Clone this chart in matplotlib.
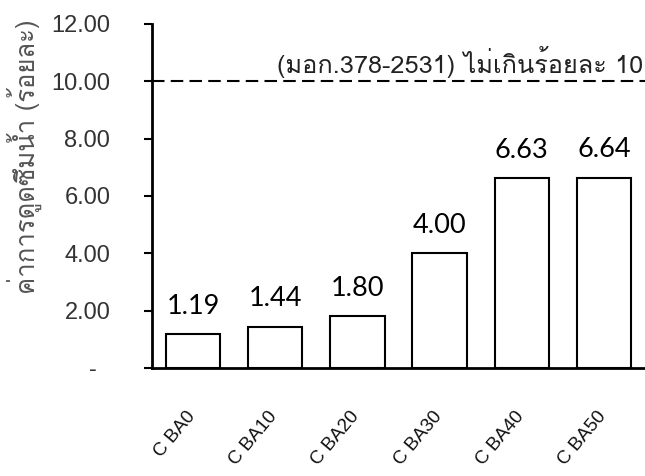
import matplotlib
matplotlib.use('Agg')
import matplotlib.pyplot as plt
import matplotlib.transforms as mtransforms
from matplotlib import font_manager
from matplotlib.ft2font import FT2Font

categories = ['C BA0', 'C BA10', 'C BA20', 'C BA30', 'C BA40', 'C BA50']
absorption = [1.19, 1.44, 1.80, 4.00, 6.63, 6.64]
value_labels = ['1.19', '1.44', '1.80', '4.00', '6.63', '6.64']
y_ticks = [0, 2, 4, 6, 8, 10, 12]
y_tick_labels = ['-  ', '2.00', '4.00', '6.00', '8.00', '10.00', '12.00']
limit_value = 10
limit_text = '(มอก.378-2531) ไม่เกินร้อยละ 10'
y_title = 'ค่าการดูดซึมน้ำ (ร้อยละ)'


def thai_family():
    # look for any installed font that has Thai glyphs
    for f in font_manager.fontManager.ttflist:
        try:
            if 0x0E01 in FT2Font(f.fname).get_charmap():
                return f.name
        except Exception:
            pass
    return None


th = thai_family()
sans = ['Liberation Sans', 'DejaVu Sans']
thai_fam = ([th] if th else []) + sans
if th:
    sans = ['Liberation Sans', th, 'DejaVu Sans']

fig = plt.figure(figsize=(6.45, 4.76), dpi=100)
ax = fig.add_axes([0.2357, 0.2269, 0.7643, 0.7227])

x = list(range(len(categories)))
ax.bar(x, absorption, width=0.66, color='white', edgecolor='black', linewidth=1.5)

for xi, v, lab in zip(x, absorption, value_labels):
    ax.annotate(lab, (xi, v), xytext=(0, 11), textcoords='offset points',
                ha='center', va='bottom', fontsize=19.5, family=['Lato', 'DejaVu Sans'])

ax.axhline(limit_value, color='black', linewidth=1.5, dashes=(6, 3))
ax.text(5.48, limit_value + 0.1, limit_text, ha='right', va='bottom',
        fontsize=18.2, color='#222222', family=thai_fam)

ax.set_xlim(-0.5, 5.5)
ax.set_ylim(0, 12)
ax.set_yticks(y_ticks)
ax.set_yticklabels(y_tick_labels, fontsize=17, color='#333333', family=sans)
ax.set_xticks(x)
ax.set_xticklabels(categories, rotation=50, ha='right', va='top', fontsize=13.5,
                   color='#111111', family=sans)
ax.tick_params(axis='x', length=0, pad=29)
ax.tick_params(axis='y', length=6, width=1.5, direction='out', pad=24)

# nudge category labels a little to the right
shift = mtransforms.ScaledTranslation(4 / 72, 0, fig.dpi_scale_trans)
for lbl in ax.get_xticklabels():
    lbl.set_transform(lbl.get_transform() + shift)

for s in ['top', 'right']:
    ax.spines[s].set_visible(False)
for s in ['left', 'bottom']:
    ax.spines[s].set_linewidth(2)

fig.text(24 / 645, 1 - 157 / 476, y_title, rotation=90, ha='center', va='center',
         fontsize=18.5, color='#555555', family=thai_fam)

fig.savefig('out.png', dpi=100)
